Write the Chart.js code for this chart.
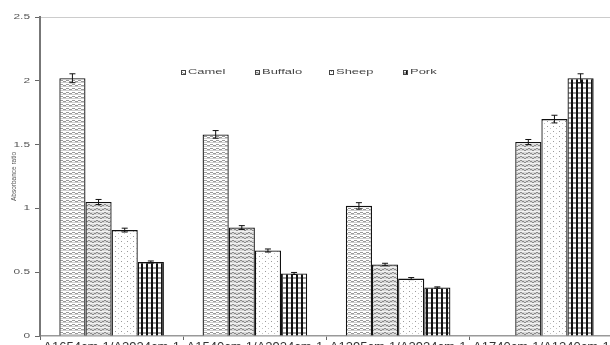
<!DOCTYPE html>
<html><head><meta charset="utf-8">
<script src="https://cdn.jsdelivr.net/npm/chart.js@4"></script>
<style>html,body{margin:0;padding:0;background:#fff;overflow:hidden;width:610px;height:345px}#wrap{position:absolute;left:0;top:0;width:613px;height:352px}</style>
</head><body><div id="wrap"><canvas id="c" width="613" height="352"></canvas></div>
<script>
const categories = ['A1654cm-1/A2924cm-1','A1540cm-1/A2924cm-1','A1395cm-1/A2924cm-1','A1740cm-1/A1240cm-1'];
const seriesNames = ['Camel','Buffalo','Sheep','Pork'];
const camel   = [2.02, 1.58, 1.02, null];
const buffalo = [1.05, 0.85, 0.56, 1.52];
const sheep   = [0.83, 0.67, 0.45, 1.70];
const pork    = [0.58, 0.49, 0.38, 2.02];
const camelErr   = [0.035, 0.03, 0.025, 0];
const buffaloErr = [0.02, 0.015, 0.01, 0.02];
const sheepErr   = [0.015, 0.012, 0.008, 0.03];
const porkErr    = [0.008, 0.008, 0.005, 0.035];
const yTicks = [0, 0.5, 1, 1.5, 2, 2.5];

const FONT='"Liberation Sans", Arial, sans-serif';
function makePattern(kind){
  const p = document.createElement('canvas');
  const x = p.getContext('2d');
  if(kind==='camel'){
    p.width=6;p.height=4;x.fillStyle='#fff';x.fillRect(0,0,6,4);
    x.fillStyle='#9a9a9a';
    x.fillRect(0,0,3,1);x.fillRect(3,1,3,1);
    x.fillStyle='#cfcfcf';x.fillRect(0,2,6,1);
  } else if(kind==='buffalo'){
    p.width=8;p.height=4;x.fillStyle='#d8d8d8';x.fillRect(0,0,8,4);
    x.fillStyle='#8a8a8a';
    x.fillRect(0,0,2,1);x.fillRect(2,1,2,1);x.fillRect(4,2,2,1);x.fillRect(6,1,2,1);
    x.fillStyle='#f2f2f2';x.fillRect(0,3,8,1);
  } else if(kind==='sheep'){
    p.width=6;p.height=5;x.fillStyle='#fff';x.fillRect(0,0,6,5);
    x.fillStyle='#9a9a9a';x.fillRect(1,1,1,1);x.fillStyle='#c4c4c4';x.fillRect(4,3,1,1);
  } else {
    p.width=5;p.height=5;x.fillStyle='#fff';x.fillRect(0,0,5,5);
    x.fillStyle='#a0a0a0';x.fillRect(0,2,5,2);
    x.fillStyle='#111';x.fillRect(1,0,2,5);
  }
  return x.createPattern(p,'repeat');
}
function stretchText(ctx,text,x,y,align,sx){
  ctx.save();ctx.translate(x,y);ctx.scale(sx,1);ctx.textAlign=align;ctx.fillText(text,0,0);ctx.restore();
}
const errs=[camelErr,buffaloErr,sheepErr,porkErr];
const errorBars={id:'errorBars',afterDatasetsDraw(chart){
  const ctx=chart.ctx,y=chart.scales.y;
  chart.data.datasets.forEach((ds,i)=>{
    const meta=chart.getDatasetMeta(i);
    meta.data.forEach((bar,j)=>{
      const v=ds.data[j];if(v==null)return;const e=errs[i][j];
      const yt=y.getPixelForValue(v+e),yb=y.getPixelForValue(v-e),x0=bar.x;
      ctx.save();ctx.strokeStyle='#111';ctx.lineWidth=1;ctx.beginPath();
      ctx.moveTo(x0,yt);ctx.lineTo(x0,yb);ctx.moveTo(x0-3,yt);ctx.lineTo(x0+3,yt);ctx.moveTo(x0-3,yb);ctx.lineTo(x0+3,yb);ctx.stroke();ctx.restore();
    });
  });
}};
const textPlug={id:'textPlug',afterDraw(chart){
  const ctx=chart.ctx;ctx.save();ctx.textBaseline='middle';
  ctx.font='7px '+FONT;
  chart.data.datasets.forEach((ds,i)=>{
    const lx=181+i*74,ly=72;
    ctx.fillStyle=ds.backgroundColor;ctx.fillRect(lx,ly-2,5,5);ctx.strokeStyle='#444';ctx.lineWidth=1;ctx.strokeRect(lx+0.5,ly-1.5,4,4);
    ctx.fillStyle='#444';stretchText(ctx,ds.label,lx+7,ly+0.5,'left',1.85);
  });
  const y=chart.scales.y;ctx.fillStyle='#555';ctx.font='7px '+FONT;
  yTicks.forEach(v=>stretchText(ctx,String(v),30,y.getPixelForValue(v),'right',1.7));
  ctx.restore();
}};
const pats=['camel','buffalo','sheep','pork'].map(makePattern);
const vals=[camel,buffalo,sheep,pork];
new Chart(document.getElementById('c'),{
  type:'bar',
  data:{labels:categories,datasets:seriesNames.map((n,i)=>({label:n,data:vals[i],backgroundColor:pats[i],borderColor:'#111',borderWidth:1.3,categoryPercentage:0.73,barPercentage:1}))},
  options:{responsive:false,animation:false,devicePixelRatio:1,
    layout:{padding:{top:17,left:0,right:0,bottom:0}},
    plugins:{legend:{display:false},tooltip:{enabled:false}},
    scales:{
      x:{grid:{drawOnChartArea:false,offset:true,tickLength:4,color:'#666'},border:{color:'#999',width:1.5},
        ticks:{padding:0,color:'#333',font:{size:13,family:FONT}},
        afterFit(s){s.height=16;}},
      y:{min:0,max:2.5,afterBuildTicks(s){s.ticks=yTicks.map(v=>({value:v}));},
        grid:{color:c=>c.tick&&c.tick.value===2.5?'#cccccc':'rgba(0,0,0,0)',tickColor:'#666',tickLength:5,drawTicks:true},
        border:{color:'#777',width:2},
        ticks:{display:false},
        title:{display:true,text:'Absorbance ratio',color:'#555',font:{size:6.5,family:FONT},padding:{top:10,bottom:0}},
        afterFit(s){s.width=40;}}
    }
  },
  plugins:[errorBars,textPlug]
});
</script></body></html>
